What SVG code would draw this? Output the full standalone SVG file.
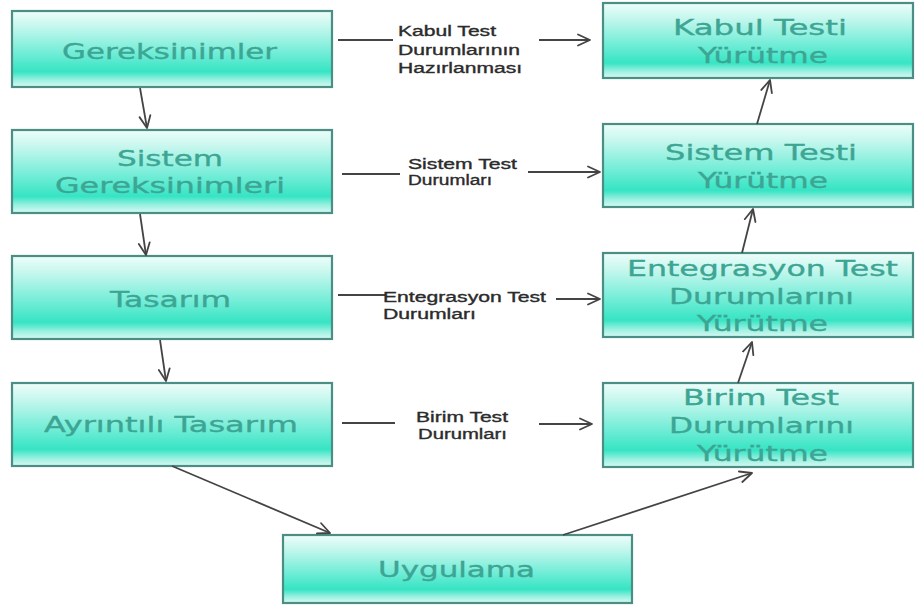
<svg xmlns="http://www.w3.org/2000/svg" width="916" height="609" viewBox="0 0 916 609">
<defs>
<linearGradient id="fill" x1="0" y1="0" x2="0" y2="1">
<stop offset="0" stop-color="#eefdfa"/>
<stop offset="0.2" stop-color="#c6f7ee"/>
<stop offset="0.58" stop-color="#6becd5"/>
<stop offset="0.8" stop-color="#36e4c4"/>
<stop offset="0.91" stop-color="#9cf1e1"/>
<stop offset="1" stop-color="#d9f9f3"/>
</linearGradient>
<marker id="arr" viewBox="0 0 14 14" refX="13" refY="7" markerWidth="14" markerHeight="14" markerUnits="userSpaceOnUse" orient="auto">
<path d="M1,1.5 L13,7 L1,12.5" fill="none" stroke="#444" stroke-width="1.8" stroke-linecap="round" stroke-linejoin="round"/>
</marker>
<style>
.box{fill:url(#fill);stroke:#4b8e84;stroke-width:2.2}
.nt{font-family:"DejaVu Sans",Verdana,sans-serif;font-size:22px;fill:#3da593;stroke:#3da593;stroke-width:0.35}
.lb{font-family:"Liberation Sans",Arial,sans-serif;font-size:14px;fill:#2b2b2b;stroke:#2b2b2b;stroke-width:0.35}
.c{fill:none;stroke:#444;stroke-width:1.8}
.ca{fill:none;stroke:#444;stroke-width:1.8;marker-end:url(#arr)}
</style>
</defs>
<rect width="916" height="609" fill="#ffffff"/>

<g id="gereksinimler">
<rect class="box" x="12" y="11" width="320" height="76"/>
<text class="nt" x="62" y="59" textLength="215" lengthAdjust="spacingAndGlyphs">Gereksinimler</text>
</g>
<g id="sistem-gereksinimleri">
<rect class="box" x="12" y="130" width="320" height="83"/>
<text class="nt" x="117" y="166" textLength="106" lengthAdjust="spacingAndGlyphs">Sistem</text>
<text class="nt" x="55" y="193" textLength="230" lengthAdjust="spacingAndGlyphs">Gereksinimleri</text>
</g>
<g id="tasarim">
<rect class="box" x="12" y="256" width="320" height="83"/>
<text class="nt" x="110" y="307" textLength="121" lengthAdjust="spacingAndGlyphs">Tasarım</text>
</g>
<g id="ayrintili-tasarim">
<rect class="box" x="12" y="383" width="320" height="83"/>
<text class="nt" x="44" y="432" textLength="254" lengthAdjust="spacingAndGlyphs">Ayrıntılı Tasarım</text>
</g>
<g id="uygulama">
<rect class="box" x="283" y="535" width="349" height="68"/>
<text class="nt" x="378" y="577" textLength="157" lengthAdjust="spacingAndGlyphs">Uygulama</text>
</g>
<g id="kabul-testi">
<rect class="box" x="603" y="3" width="310" height="75"/>
<text class="nt" x="673" y="35" textLength="174" lengthAdjust="spacingAndGlyphs">Kabul Testi</text>
<text class="nt" x="698" y="63" textLength="130" lengthAdjust="spacingAndGlyphs">Yürütme</text>
</g>
<g id="sistem-testi">
<rect class="box" x="603" y="124" width="310" height="83"/>
<text class="nt" x="665" y="160" textLength="192" lengthAdjust="spacingAndGlyphs">Sistem Testi</text>
<text class="nt" x="698" y="188" textLength="130" lengthAdjust="spacingAndGlyphs">Yürütme</text>
</g>
<g id="entegrasyon-test">
<rect class="box" x="603" y="253" width="310" height="84"/>
<text class="nt" x="627" y="276" textLength="271" lengthAdjust="spacingAndGlyphs">Entegrasyon Test</text>
<text class="nt" x="669" y="304" textLength="185" lengthAdjust="spacingAndGlyphs">Durumlarını</text>
<text class="nt" x="697" y="331" textLength="131" lengthAdjust="spacingAndGlyphs">Yürütme</text>
</g>
<g id="birim-test">
<rect class="box" x="603" y="383" width="310" height="84"/>
<text class="nt" x="683" y="405" textLength="156" lengthAdjust="spacingAndGlyphs">Birim Test</text>
<text class="nt" x="669" y="433" textLength="185" lengthAdjust="spacingAndGlyphs">Durumlarını</text>
<text class="nt" x="697" y="461" textLength="131" lengthAdjust="spacingAndGlyphs">Yürütme</text>
</g>

<g id="connectors">
<line class="ca" x1="140" y1="88" x2="147" y2="128"/>
<line class="ca" x1="140" y1="214" x2="146" y2="255"/>
<line class="ca" x1="160" y1="340" x2="166" y2="381"/>
<line class="ca" x1="172" y1="466" x2="330" y2="533"/>
<line class="ca" x1="563" y1="535" x2="752" y2="473"/>
<line class="ca" x1="738" y1="383" x2="752" y2="342"/>
<line class="ca" x1="742" y1="253" x2="753" y2="209"/>
<line class="ca" x1="757" y1="124" x2="770" y2="80"/>

<line class="c" x1="338" y1="40" x2="393" y2="40"/>
<line class="ca" x1="539" y1="40" x2="590" y2="40"/>
<line class="c" x1="342" y1="174" x2="400" y2="174"/>
<line class="ca" x1="528" y1="172" x2="600" y2="172"/>
<line class="c" x1="338" y1="295" x2="385" y2="295"/>
<line class="ca" x1="556" y1="299" x2="600" y2="299"/>
<line class="c" x1="342" y1="423" x2="395" y2="423"/>
<line class="ca" x1="539" y1="424" x2="592" y2="424"/>

<text class="lb" x="398" y="36" textLength="98" lengthAdjust="spacingAndGlyphs">Kabul Test</text>
<text class="lb" x="398" y="55" textLength="122" lengthAdjust="spacingAndGlyphs">Durumlarının</text>
<text class="lb" x="398" y="73" textLength="124" lengthAdjust="spacingAndGlyphs">Hazırlanması</text>
<text class="lb" x="408" y="169" textLength="109" lengthAdjust="spacingAndGlyphs">Sistem Test</text>
<text class="lb" x="408" y="185" textLength="84" lengthAdjust="spacingAndGlyphs">Durumları</text>
<text class="lb" x="383" y="302" textLength="163" lengthAdjust="spacingAndGlyphs">Entegrasyon Test</text>
<text class="lb" x="383" y="319" textLength="93" lengthAdjust="spacingAndGlyphs">Durumları</text>
<text class="lb" x="416" y="422" textLength="92" lengthAdjust="spacingAndGlyphs">Birim Test</text>
<text class="lb" x="418" y="439" textLength="89" lengthAdjust="spacingAndGlyphs">Durumları</text>
</g>
</svg>
